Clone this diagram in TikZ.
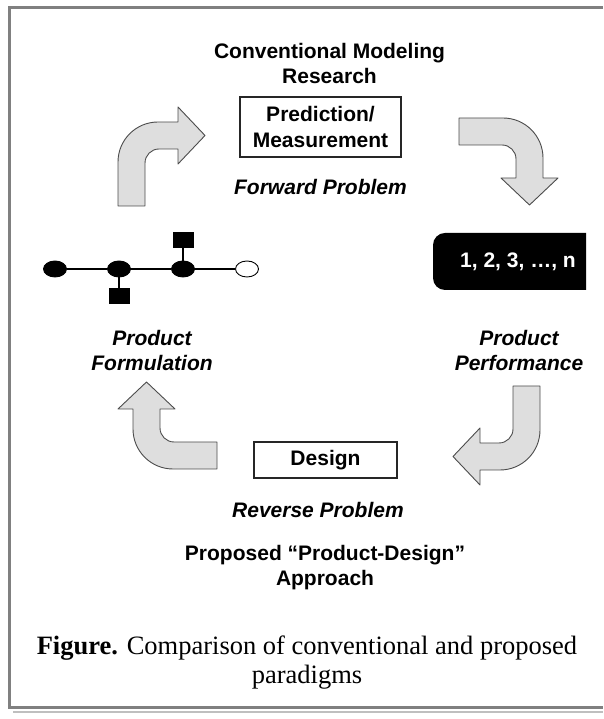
\documentclass[tikz,border=0pt]{standalone}
\usepackage{fontspec}
\setmainfont{Liberation Sans}
\newfontfamily\capfont{Liberation Serif}
\usetikzlibrary{positioning, shapes.geometric}

\begin{document}
\begin{tikzpicture}[x=1pt, y=1pt, inner sep=0pt,
  lbl/.style={font=\fontsize{21}{25.5}\selectfont\bfseries, align=center, anchor=north},
  ilbl/.style={font=\fontsize{21}{25.5}\selectfont\bfseries\itshape, align=center, anchor=north},
  boxed/.style={draw=black!85, line width=1.1pt, font=\fontsize{21}{26}\selectfont\bfseries, align=center},
  numbox/.style={fill=black, rounded corners=12pt, text=white, font=\fontsize{21}{25}\selectfont\bfseries, minimum width=170pt, minimum height=57pt},
  atom/.style={ellipse, draw=black, line width=0.9pt, fill=black, minimum width=23pt, minimum height=16pt},
  sq/.style={rectangle, fill=black, minimum width=21pt, minimum height=16pt},
  bond/.style={line width=1.1pt},
  frame/.style={draw=black!50, line width=3pt},
  blockarrow/.style={fill=black!13, draw=black!70, line width=0.9pt, line join=round},
  bendarrow/.pic={\path[blockarrow] (0,-84) -- (0,-40) arc[start angle=180, end angle=90, radius=40pt] -- (60,0) -- (60,15) -- (87,-13.5) -- (60,-42) -- (60,-27) -- (41,-27) arc[start angle=90, end angle=180, radius=14pt] -- (27,-84) -- cycle;}]
  \useasboundingbox (0,0) rectangle (603,719);
  \draw[black!25, line width=2.5pt] (13,7) -- (603,7);
  \draw[frame] (603,711.5) -| (9,11) -- (603,11);

  \node[lbl] (conv) at (329.5,676) {Conventional Modeling\\Research};
  \node[boxed, minimum width=161pt, minimum height=60pt] (pred) at (320.5,592) {Prediction/\\Measurement};
  \node[ilbl, below=22pt of pred] (fwd) {Forward Problem};
  \node[ilbl] (form) at (152,389) {Product\\Formulation};
  \node[ilbl] (perf) at (519,389) {Product\\Performance};
  \node[boxed, minimum width=143pt, minimum height=36pt] (design) at (325.5,259) {Design};
  \node[ilbl] (rev) at (318,217) {Reverse Problem};
  \node[lbl] (prop) at (325,174) {Proposed “Product-Design”\\Approach};
  \node[font=\capfont\fontsize{26.5}{29}\selectfont, align=center, anchor=north] (cap) at (307,83) {\textbf{Figure.} Comparison of conventional and proposed\\paradigms};

  \begin{scope}
    \clip (0,0) rectangle (586,719);
    \node[numbox] (nums) at (518,457.5) {1, 2, 3, …, n};
  \end{scope}

  \node[atom] (a1) at (55,450) {}; \node[atom] (a2) at (119,450) {};
  \node[atom] (a3) at (183,450) {}; \node[atom, fill=white] (a4) at (247,450) {};
  \node[sq] (s1) at (183,479) {}; \node[sq] (s2) at (119,422.5) {};
  \draw[bond] (a1) -- (a2) -- (a3) -- (a4); \draw[bond] (a3) -- (s1); \draw[bond] (a2) -- (s2);

  \pic at (118,597) {bendarrow}; \pic[rotate=-90] at (543,601) {bendarrow};
  \pic[rotate=180] at (540,249) {bendarrow}; \pic[rotate=90] at (133,250) {bendarrow};
\end{tikzpicture}
\end{document}
